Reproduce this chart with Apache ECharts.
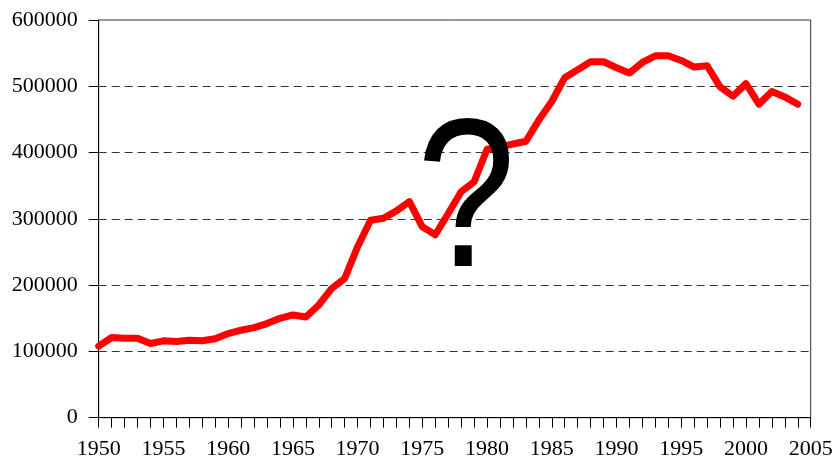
<!DOCTYPE html>
<html>
<head>
<meta charset="utf-8">
<script src="https://cdn.jsdelivr.net/npm/echarts@6/dist/echarts.min.js"></script>
<style>
  html, body { margin: 0; padding: 0; background: #fff; }
  #chart { width: 836px; height: 457px; }
</style>
</head>
<body>
<div id="chart"></div>
<script>
// years on the x axis (2005 has no value, only the end tick)
const years = [
  '1950', '1951', '1952', '1953', '1954', '1955', '1956', '1957', '1958', '1959',
  '1960', '1961', '1962', '1963', '1964', '1965', '1966', '1967', '1968', '1969',
  '1970', '1971', '1972', '1973', '1974', '1975', '1976', '1977', '1978', '1979',
  '1980', '1981', '1982', '1983', '1984', '1985', '1986', '1987', '1988', '1989',
  '1990', '1991', '1992', '1993', '1994', '1995', '1996', '1997', '1998', '1999',
  '2000', '2001', '2002', '2003', '2004', '2005'
]
const values = [
  108000, 121000, 120000, 120000, 112000, 116000, 115000, 117000, 116000, 119000,
  127000, 132000, 136000, 142000, 150000, 155000, 152000, 170000, 195000, 210000,
  258000, 298000, 301000, 312000, 326000, 288000, 276000, 308000, 341000, 356000,
  405000, 408000, 413000, 417000, 449000, 477000, 513000, 525000, 537000, 537000,
  528000, 520000, 536000, 546000, 546000, 539000, 529000, 531000, 499000, 485000,
  504000, 473000, 492000, 484000, 473000
]
const yTicks = { min: 0, max: 600000, step: 100000 }

const font = 'Liberation Serif, Times New Roman, serif'

const chart = echarts.init(document.getElementById('chart'))
chart.setOption({
  animation: false,
  grid: {
    left: 98.7,
    right: 25.3,
    top: 20,
    bottom: 39.3,
    outerBoundsMode: 'none',
    show: true,
    borderColor: '#333',
    borderWidth: 1
  },
  xAxis: {
    type: 'category',
    data: years,
    boundaryGap: false,
    axisLine: { lineStyle: { color: '#000', width: 1 } },
    axisTick: { interval: 0, length: 10, lineStyle: { color: '#000' } },
    axisLabel: {
      interval: 4,
      margin: 21,
      color: '#000',
      fontFamily: font,
      fontSize: 22
    },
    splitLine: { show: false }
  },
  yAxis: {
    type: 'value',
    min: yTicks.min,
    max: yTicks.max,
    interval: yTicks.step,
    axisLine: { show: true, lineStyle: { color: '#000', width: 1 } },
    axisTick: { show: true, length: 10, lineStyle: { color: '#000' } },
    axisLabel: {
      margin: 21,
      color: '#000',
      fontFamily: font,
      fontSize: 22,
      formatter: v => String(v)
    },
    splitLine: {
      show: true,
      showMinLine: false,
      showMaxLine: false,
      lineStyle: { color: '#333', width: 1, type: [8, 5] }
    }
  },
  series: [
    {
      type: 'line',
      data: values,
      symbol: 'none',
      lineStyle: { color: '#ff0000', width: 7, cap: 'round', join: 'round' },
      z: 2
    }
  ],
  graphic: [
    {
      // the big question mark over the chart, a bit narrower than the font
      type: 'text',
      x: 416.7,
      y: 102,
      scaleX: 0.843,
      z: 100,
      style: {
        text: '?',
        x: 0,
        y: 0,
        align: 'left',
        verticalAlign: 'top',
        fontFamily: 'Liberation Sans, Arial, sans-serif',
        fontWeight: 'normal',
        fontSize: 211,
        fill: '#000'
      }
    }
  ]
})
</script>
</body>
</html>
